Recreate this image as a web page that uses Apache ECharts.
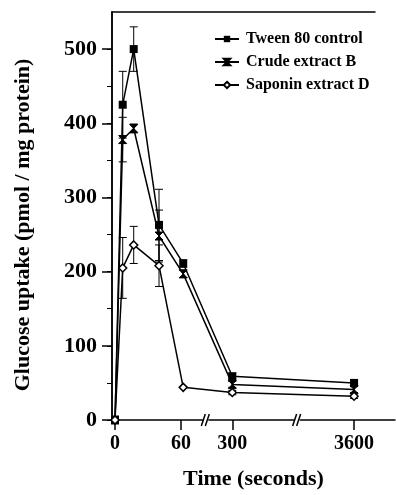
<!DOCTYPE html>
<html>
<head>
<meta charset="utf-8">
<script src="https://cdn.jsdelivr.net/npm/echarts@6.0.0/dist/echarts.min.js"></script>
<style>
  html, body { margin: 0; padding: 0; background: #fff; }
  #chart { width: 396px; height: 495px; }
</style>
</head>
<body>
<div id="chart"></div>
<script>
// sampling times (seconds)
const times = [0, 7, 17, 40, 62, 300, 3600];

// glucose uptake, pmol / mg protein
const tween = [0, 425, 500, 263, 211, 59, 50];
const tweenErr = [0, 45, 30, 48, 5, 4, 4];
const crude = [0, 378, 393, 248, 197, 48, 41];
const crudeErr = [0, 30, 6, 35, 5, 4, 4];
const saponin = [0, 205, 236, 208, 44, 37, 32];
const saponinErr = [0, 41, 25, 28, 0, 3, 3];

const seriesNames = ['Tween 80 control', 'Crude extract B', 'Saponin extract D'];
const xTicks = [0, 60, 300, 3600];
const yTicks = [0, 100, 200, 300, 400, 500];
const yMinorTicks = [0, 50, 100, 150, 200, 250, 300, 350, 400, 450, 500];
const breakTimes = [83, 166]; // where the axis is cut (in plot units)

// broken time axis: linear up to ~60 s, then two cut segments
function pos(t) {
  if (t <= 100) return t;
  return 106.6 + (t - 300) * (217.3 - 106.6) / 3300;
}

const font = 'Liberation Serif';
const chart = echarts.init(document.getElementById('chart'));

function lineSeries(name, vals, symbol, itemStyle) {
  return {
    name: name,
    type: 'line',
    xAxisIndex: 0,
    yAxisIndex: 1,
    data: times.map((t, i) => [pos(t), vals[i]]),
    symbol: symbol,
    symbolSize: 8,
    showAllSymbol: true,
    lineStyle: { color: '#000', width: 1.5 },
    itemStyle: itemStyle,
    z: 3
  };
}

function errSeries(vals, errs) {
  return {
    type: 'custom',
    xAxisIndex: 0,
    yAxisIndex: 1,
    data: times.map((t, i) => [pos(t), vals[i] - errs[i], vals[i] + errs[i]]),
    renderItem: function (params, api) {
      const lo = api.coord([api.value(0), api.value(1)]);
      const hi = api.coord([api.value(0), api.value(2)]);
      const w = 4;
      const st = { stroke: '#000', lineWidth: 1 };
      return {
        type: 'group',
        children: [
          { type: 'line', shape: { x1: hi[0], y1: hi[1], x2: lo[0], y2: lo[1] }, style: st },
          { type: 'line', shape: { x1: hi[0] - w, y1: hi[1], x2: hi[0] + w, y2: hi[1] }, style: st },
          { type: 'line', shape: { x1: lo[0] - w, y1: lo[1], x2: lo[0] + w, y2: lo[1] }, style: st }
        ]
      };
    },
    silent: true,
    z: 2
  };
}

chart.setOption({
  animation: false,
  backgroundColor: '#fff',
  textStyle: { fontFamily: font, color: '#000' },
  legend: {
    data: seriesNames,
    orient: 'vertical',
    left: 209,
    top: 26,
    itemWidth: 24,
    itemHeight: 8,
    itemGap: 7,
    textStyle: { fontFamily: font, fontWeight: 'bold', fontSize: 16, color: '#000', padding: [0, 0, 0, 2] }
  },
  grid: [
    { left: 112, right: 1, top: 12, bottom: 74 },
    { left: 112, right: 21, top: 12, bottom: 74 }
  ],
  xAxis: [
    {
      type: 'value',
      gridIndex: 0,
      min: -2.73,
      max: 254.5,
      name: 'Time (seconds)',
      nameLocation: 'middle',
      nameGap: 48,
      nameTextStyle: { fontFamily: font, fontWeight: 'bold', fontSize: 22, color: '#000' },
      axisLine: { onZero: false, lineStyle: { color: '#000', width: 1.5 } },
      axisTick: { length: 10, lineStyle: { color: '#000', width: 1.5 }, customValues: xTicks.map(pos) },
      axisLabel: {
        fontFamily: font, fontWeight: 'bold', fontSize: 20, color: '#000', margin: 14,
        customValues: xTicks.map(pos),
        formatter: function (v) {
          let best = xTicks[0];
          xTicks.forEach(t => { if (Math.abs(pos(t) - v) < Math.abs(pos(best) - v)) best = t; });
          return String(best);
        }
      },
      splitLine: { show: false }
    },
    {
      type: 'value',
      gridIndex: 1,
      position: 'top',
      axisLine: { onZero: false, lineStyle: { color: '#000', width: 1.5 } },
      axisTick: { show: false },
      axisLabel: { show: false },
      splitLine: { show: false }
    }
  ],
  yAxis: [
    {
      type: 'value',
      gridIndex: 0,
      position: 'left',
      min: 0,
      max: 550,
      axisLine: { onZero: false, lineStyle: { color: '#000', width: 1.5 } },
      axisTick: { length: 5, lineStyle: { color: '#000', width: 1 }, customValues: yMinorTicks },
      axisLabel: { show: false },
      splitLine: { show: false }
    },
    {
      type: 'value',
      gridIndex: 0,
      position: 'left',
      min: 0,
      max: 550,
      name: 'Glucose uptake (pmol / mg protein)',
      nameLocation: 'middle',
      nameGap: 78,
      nameTextStyle: { fontFamily: font, fontWeight: 'bold', fontSize: 22, color: '#000', padding: [0, 18, 0, 0] },
      axisLine: { show: true, onZero: false, lineStyle: { color: '#000', width: 1.5 } },
      axisTick: { length: 10, lineStyle: { color: '#000', width: 1.5 }, customValues: yTicks },
      axisLabel: {
        fontFamily: font, fontWeight: 'bold', fontSize: 22, color: '#000', margin: 15,
        customValues: yTicks
      },
      splitLine: { show: false }
    },
    {
      type: 'value',
      gridIndex: 1,
      show: false
    }
  ],
  series: [
    errSeries(tween, tweenErr),
    errSeries(crude, crudeErr),
    errSeries(saponin, saponinErr),
    lineSeries(seriesNames[0], tween, 'rect', { color: '#000' }),
    lineSeries(seriesNames[1], crude, 'path://M0,0L10,0L0,10L10,10Z', { color: '#000', borderColor: '#000', borderWidth: 1 }),
    lineSeries(seriesNames[2], saponin, 'diamond', { color: '#fff', borderColor: '#000', borderWidth: 1.5 }),
    {
      // "//" cut marks on the time axis
      type: 'custom',
      xAxisIndex: 0,
      yAxisIndex: 1,
      data: breakTimes.map(u => [u, 0]),
      clip: false,
      silent: true,
      renderItem: function (params, api) {
        const p = api.coord([api.value(0), api.value(1)]);
        const st = { stroke: '#000', lineWidth: 1.5 };
        return {
          type: 'group',
          children: [
            { type: 'rect', shape: { x: p[0] - 3, y: p[1] - 2, width: 5, height: 4 }, style: { fill: '#fff' } },
            { type: 'line', shape: { x1: p[0] - 5, y1: p[1] + 6, x2: p[0] - 1, y2: p[1] - 6 }, style: st },
            { type: 'line', shape: { x1: p[0] - 1, y1: p[1] + 6, x2: p[0] + 3, y2: p[1] - 6 }, style: st }
          ]
        };
      },
      z: 5
    }
  ]
});
</script>
</body>
</html>
